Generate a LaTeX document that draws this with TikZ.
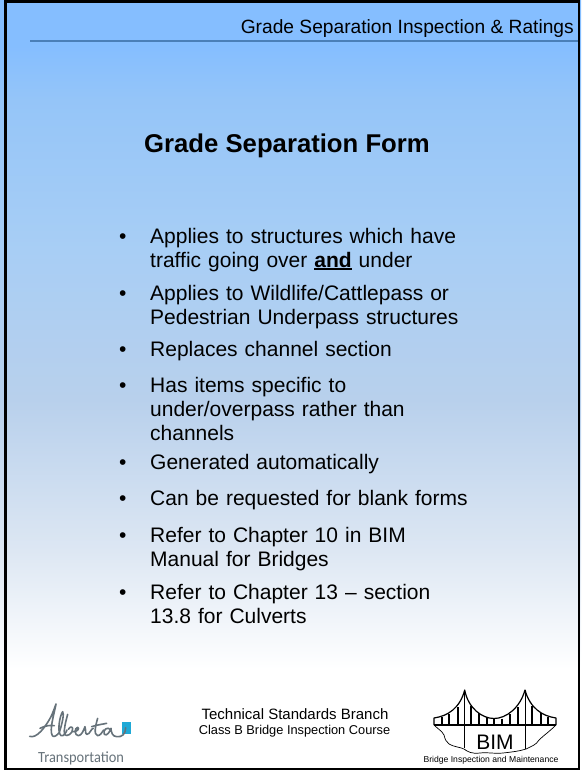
\documentclass[tikz,border=0pt]{standalone}
\usepackage{fontspec}
\setmainfont{Liberation Sans}
\newfontfamily\logofont{Carlito}
\definecolor{topblue}{HTML}{85BEFF}
\definecolor{gA}{HTML}{95C5F8}
\definecolor{gB}{HTML}{A8CEF5}
\definecolor{gC}{HTML}{B8D0EC}
\definecolor{gD}{HTML}{DDE7F3}
\definecolor{rulec}{HTML}{4A7FB8}
\definecolor{albgrey}{HTML}{66727A}
\definecolor{albblue}{HTML}{1FA9D6}
\pgfdeclareverticalshading{slidebg}{100bp}{color(0bp)=(white); color(31.6bp)=(white); color(39.3bp)=(gD); color(49.1bp)=(gC); color(58.8bp)=(gB); color(68.5bp)=(gA); color(72bp)=(topblue); color(100bp)=(topblue)}
\newcommand\ulbold[1]{\setbox0\hbox{#1}\rlap{\rule[-3.2pt]{\wd0}{1.8pt}}\box0\relax}
\tikzset{
 px/.style={x=1pt,y=-1pt},
 bodytext/.style={anchor=north west,align=left,font=\fontsize{21}{24}\selectfont,inner sep=0pt,text width=345pt},
 bul/.style={anchor=north west,inner sep=0pt,font=\fontsize{21}{24}\selectfont},
 hanger/.style={line width=2.2pt,black},
 thinl/.style={line width=.7pt,black,line join=round},
 sign/.style={albgrey,line width=1.6pt,line cap=round,line join=round}
}
\begin{document}
\begin{tikzpicture}[px]
\useasboundingbox (0,0) rectangle (581,771);
\shade[shading=slidebg] (0,0) rectangle (581,771);
\draw[black,line width=2.5pt] (5.5,1.5) -- (579,1.5) -- (579,769) -- (5.5,769) -- cycle;
\coordinate (ruleA) at (30,41);
\coordinate (ruleB) at (578,41);
\draw[rulec,line width=1.3pt] (ruleA) -- (ruleB);
\node[anchor=east,inner sep=0pt,font=\fontsize{19.2}{23}\selectfont] (hdr) at (574,28.5) {Grade Separation Inspection \& Ratings};
\node[anchor=center,inner sep=0pt,font=\bfseries\fontsize{25.7}{30}\selectfont] (title) at (287,145.5) {Grade Separation Form};
\foreach \y/\t [count=\i] in {
 224/{Applies to structures which have\\traffic going over \ulbold{\textbf{and}} under},
 281/{Applies to Wildlife/Cattlepass or\\Pedestrian Underpass structures},
 337/{Replaces channel section},
 373.5/{Has items specific to\\under/overpass rather than\\channels},
 450.5/{Generated automatically},
 486.5/{Can be requested for blank forms},
 523.5/{Refer to Chapter 10 in BIM\\Manual for Bridges},
 580.5/{Refer to Chapter 13 – section\\13.8 for Culverts}}
 {
 \node[bul] (b\i) at (119,\y+2) {\strut •};
 \node[bodytext] (t\i) at (150,\y+2) {\strut\t};
 }
\node[inner sep=0pt,font=\fontsize{15}{17}\selectfont] (f1) at (295,714) {Technical Standards Branch};
\node[inner sep=0pt,font=\fontsize{12.8}{15}\selectfont] (f2) at (294.5,731) {Class B Bridge Inspection Course};
% Alberta logo
\node[inner sep=0pt,anchor=west,text=albgrey,xscale=.93,transform shape,font=\logofont\fontsize{15.5}{18}\selectfont] (tr) at (38,758) {Transportation};
\fill[albblue] (122.3,722) rectangle (131,734);
\begin{scope}[shift={(25,695)},x=.3333pt,y=-.3333pt]
\draw[sign]
 (14,124) .. controls (35,132) and (62,95) .. (78,65) .. controls (85,50) and (90,35) .. (93,27)
 .. controls (88,55) and (72,105) .. (82,122) .. controls (86,128) and (96,122) .. (103,112)
 .. controls (112,85) and (118,55) .. (113,50) .. controls (105,60) and (95,110) .. (108,122)
 .. controls (115,125) and (122,115) .. (126,105);
\draw[sign] (45,100) .. controls (60,92) and (75,90) .. (88,92);
\draw[sign] (128,58) .. controls (122,80) and (116,105) .. (118,118) .. controls (125,128) and (145,115) .. (143,100)
 .. controls (141,92) and (130,98) .. (130,103);
\draw[sign] (143,110) .. controls (155,112) and (166,100) .. (158,97) .. controls (148,98) and (148,122) .. (160,122)
 .. controls (170,122) and (176,105) .. (180,95) .. controls (183,105) and (180,118) .. (186,118)
 .. controls (195,118) and (198,100) .. (205,100);
\draw[sign] (218,70) .. controls (212,90) and (205,120) .. (218,122) .. controls (225,122) and (232,112) .. (236,105);
\draw[sign] (200,95) .. controls (215,90) and (230,88) .. (245,85);
\draw[sign] (258,105) .. controls (248,92) and (232,105) .. (238,118) .. controls (245,125) and (255,110) .. (258,100)
 .. controls (258,110) and (262,125) .. (275,125) .. controls (290,127) and (302,118) .. (302,98);
\end{scope}
% BIM logo
\coordinate (deckL) at (434,725);
\coordinate (deckR) at (556,725);
\coordinate (towerL) at (464.7,690);
\coordinate (towerR) at (525,690);
\draw[line width=1.2pt,line join=round] (deckL) -- (434,718) .. controls (448,716) and (460,708) .. (towerL)
 .. controls (468,708) and (482,718.5) .. (494,718.5) .. controls (506,718.5) and (520,708) .. (towerR)
 .. controls (530,708) and (542,716) .. (556,718) -- (deckR);
\foreach \x/\y in {441.7/717,449/714,457.7/707,470.7/706,479/713,486.7/717,494.3/718.5,502/718.5,510/714,517.7/707,532.3/706,540.7/713,548.3/717}
 \draw[hanger] (\x,\y) -- (\x,725);
\draw[black,line width=2pt] (deckL) -- (deckR);
\draw[thinl] (towerL) -- (464.7,748);
\draw[thinl] (towerR) -- (525,749);
\draw[thinl] (deckL) .. controls (438,729) and (442,731) .. (444,735) .. controls (445,739) and (446,742) .. (449,744)
 .. controls (454,747) and (460,747) .. (464,749) .. controls (468,752) and (472,754) .. (480,753)
 .. controls (488,752) and (494,754) .. (503,753) .. controls (512,752) and (520,751) .. (526,749)
 .. controls (532,746) and (536,745) .. (539,740) .. controls (543,736) and (550,731) .. (deckR);
\node[inner sep=0pt,font=\fontsize{21}{24}\selectfont] (bim) at (495,742.5) {BIM};
\node[inner sep=0pt,font=\fontsize{8.6}{10}\selectfont] (bimt) at (491,760) {Bridge Inspection and Maintenance};
\end{tikzpicture}
\end{document}
